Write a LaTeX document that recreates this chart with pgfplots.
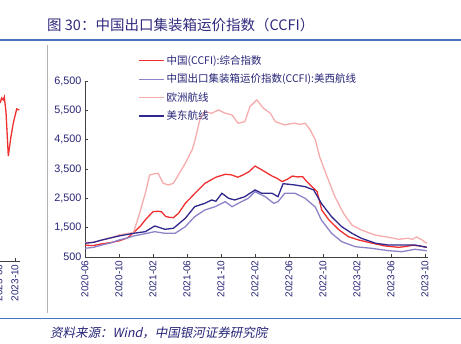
\documentclass[border=0pt]{standalone}
\usepackage{pgfplots}
\pgfplotsset{compat=1.18}
\usepackage{fontspec}
\setmainfont{Liberation Sans}
\newfontfamily\cjk{Noto Sans CJK SC}
\newfontfamily\cjkit[FakeSlant=0.2]{Noto Sans CJK SC}
\definecolor{cRed}{RGB}{240,48,48}
\definecolor{cNavy}{RGB}{48,40,140}
\definecolor{cPurp}{RGB}{140,130,200}
\definecolor{cPink}{RGB}{246,172,172}
\definecolor{cText}{RGB}{38,36,118}
\definecolor{cTitle}{RGB}{48,42,125}
\definecolor{cRule}{RGB}{70,114,196}
\begin{document}
\begin{tikzpicture}[x=1pt,y=1pt]
\useasboundingbox (0,0) rectangle (461,344);
\begin{scope}
\clip (0,0) rectangle (461,344);
% title and rules
\node[anchor=west,inner sep=0pt,text=cTitle,font=\cjk\fontsize{14.5}{16}\selectfont] at (47,319) {图 30：中国出口集装箱运价指数（CCFI）};
\draw[cRule,line width=1.6pt] (0,304) -- (461,304);
\draw[cRule,line width=1.2pt] (0,25.5) -- (461,25.5);
\draw[black!30,line width=0.6pt] (47.5,299) -- (47.5,31);
\node[anchor=west,inner sep=0pt,text=cText,font=\cjkit\fontsize{12.5}{14}\selectfont] at (50,11) {资料来源：\textit{Wind}，中国银河证券研究院};
% left fragment of previous chart
\begin{axis}[
  scale only axis, width=60pt, height=176pt,
  at={(19.5pt,83pt)}, anchor=south east,
  xmin=-60, xmax=0, ymin=500, ymax=6500,
  axis y line=none, axis x line*=bottom,
  axis line style={-,black!75,line width=0.8pt},
  xtick={-20.5,-4.5}, xticklabels={2023-06,2023-10},
  tick align=inside, major tick length=3pt,
  tick style={black!75,line width=0.8pt},
  xticklabel style={rotate=90,anchor=east,font=\fontsize{10}{11}\selectfont,text=cText},
  ytick=\empty,
]
\addplot[cRed,line width=1.3pt] coordinates {
(-19.5,5888) (-17.8,6058) (-16.2,5990) (-15.2,6092) (-13.5,5581) (-11.2,4080) (-8.7,4700) (-6.2,5206) (-2.8,5683) (-0.2,5649)};
\end{axis}
% main chart
\begin{axis}[
  scale only axis, width=342.6pt, height=176pt,
  at={(85pt,87pt)}, anchor=south west,
  xmin=0, xmax=40.3, ymin=500, ymax=6500,
  axis x line*=bottom, axis y line*=left,
  axis line style={-,black!75,line width=0.8pt},
  tick align=inside, major tick length=3pt,
  tick style={black!75,line width=0.8pt},
  xtick={0,4,...,40},
  xticklabels={2020-06,2020-10,2021-02,2021-06,2021-10,2022-02,2022-06,2022-10,2023-02,2023-06,2023-10},
  xticklabel style={rotate=90,anchor=east,font=\fontsize{10}{11}\selectfont,text=cText},
  ytick={500,1500,...,6500},
  yticklabel style={font=\fontsize{10.8}{12}\selectfont,text=cText},
  /pgf/number format/assume math mode=true,
  /pgf/number format/.cd,1000 sep={,},
  /pgfplots/.cd,
  legend cell align=left,
  legend style={at={(rel axis cs:0.155,1.157)},anchor=north west,draw=none,fill=none,
    font=\cjk\fontsize{10.5}{12}\selectfont,text=cText,row sep=4pt,inner sep=0pt},
  legend image code/.code={\draw[#1,line width=1.3pt] (0pt,0pt) -- (25pt,0pt);},
]
\addplot[cRed,line width=1.3pt] coordinates {
(0,900) (1,890) (2,950) (3,990) (4,1050) (5,1150) (5.7,1330) (6.5,1550) (7.2,1800) (8,2045) (8.6,2060) (9,2040) (9.5,1880) (10,1850) (10.4,1840) (11,1990) (11.8,2330) (13,2690) (14.1,3010) (15.4,3220) (16.5,3320) (17.2,3300) (18,3220) (18.6,3300) (19.3,3410) (20,3600) (20.8,3470) (22,3260) (22.6,3180) (23.2,3070) (23.8,3150) (24.4,3260) (25,3230) (25.6,3240) (26,3100) (26.5,2950) (27.3,2730) (27.85,2100) (28.7,1760) (29.9,1420) (31,1190) (32.2,1080) (33.8,970) (35.3,875) (36.9,830) (37.8,860) (38.5,900) (39.3,880) (40.2,830)};
\addlegendentry{中国(CCFI):综合指数}
\addplot[cPurp,line width=1.3pt] coordinates {
(0,797) (1,830) (2,909) (3,980) (4,1080) (5,1150) (5.7,1216) (7,1290) (8.2,1363) (9.4,1308) (10.6,1308) (11.8,1533) (12.9,1874) (14.1,2103) (15.3,2215) (16.5,2386) (17.3,2215) (18.4,2386) (19.2,2500) (20,2727) (20.6,2640) (21.2,2556) (22.2,2330) (22.7,2386) (23.5,2672) (24.7,2672) (25.9,2500) (27.1,2200) (27.8,1762) (29,1308) (30.2,1022) (31.8,851) (33.7,797) (35.7,715) (37.3,681) (38.8,763) (40.2,715)};
\addlegendentry{中国出口集装箱运价指数(CCFI):美西航线}
\addplot[cPink,line width=1.3pt] coordinates {
(0,988) (1,1000) (2,1080) (3,1150) (4,1250) (5,1300) (5.7,1329) (6.3,1874) (7.1,2672) (7.6,3296) (8.1,3330) (8.6,3353) (9.2,3013) (9.8,2955) (10.4,3013) (11.8,3695) (12.6,4149) (12.9,4433) (13.5,5172) (14.1,5456) (14.9,5400) (15.7,5513) (16.5,5400) (17.3,5343) (18,5060) (18.8,5114) (19.4,5626) (20.2,5854) (21,5570) (21.8,5400) (22.4,5114) (23.5,5000) (24.1,5040) (24.7,5060) (25.3,5020) (25.9,5060) (26.5,4830) (27.1,4490) (27.6,3920) (28.4,3296) (29.4,2556) (30.4,1990) (31.4,1591) (32.5,1421) (34.1,1250) (35.7,1172) (36.9,1103) (38,1138) (38.5,1103) (39,1180) (39.6,1090) (40.2,967)};
\addlegendentry{欧洲航线}
\addplot[cNavy,line width=1.3pt] coordinates {
(0,967) (1,1000) (2,1080) (3,1150) (4,1216) (5.7,1308) (7.1,1363) (8.2,1557) (9.4,1444) (10.4,1478) (11.8,1820) (12.9,2215) (14.1,2330) (14.9,2444) (15.4,2400) (16.1,2672) (16.9,2500) (17.6,2444) (18.8,2556) (20,2785) (20.8,2672) (22,2672) (22.7,2556) (23.3,3000) (24.7,2955) (25.9,2897) (26.9,2785) (27.8,2330) (29,1874) (30.2,1533) (31.4,1308) (32.5,1138) (34.2,967) (35.7,909) (37.6,909) (38.8,909) (40.2,831)};
\addlegendentry{美东航线}
\end{axis}
\end{scope}
\end{tikzpicture}
\end{document}
